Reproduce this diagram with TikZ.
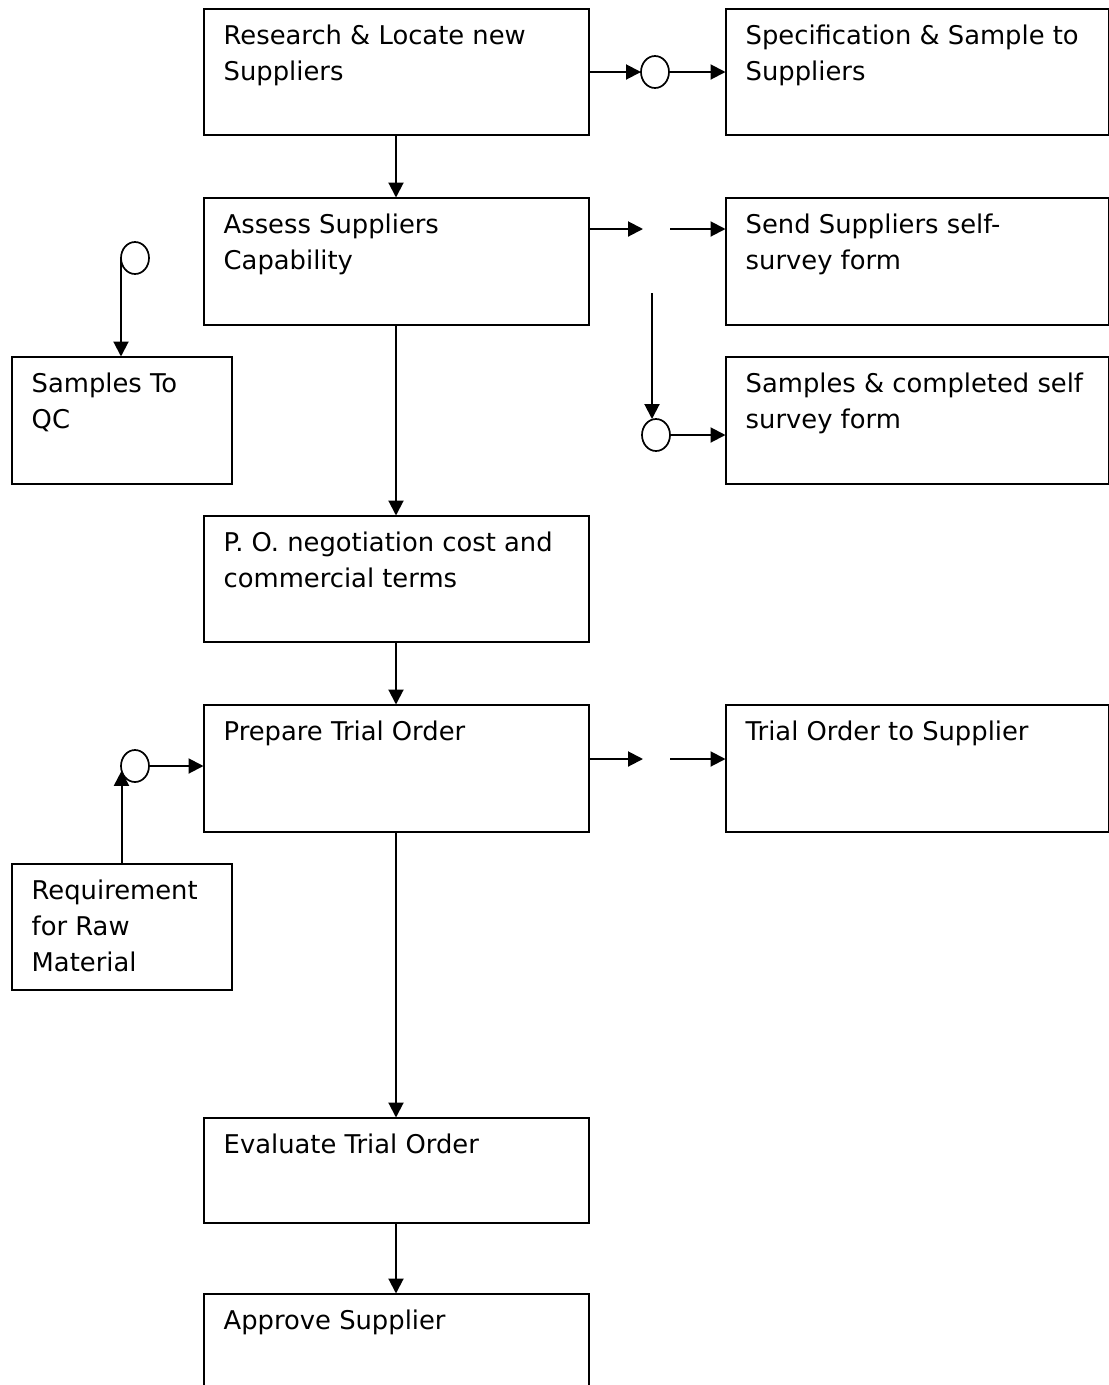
\documentclass[tikz,border=0pt]{standalone}
\usepackage{fontspec}
\setmainfont{DejaVu Sans}
\usetikzlibrary{positioning,shapes.geometric,arrows.meta}

\newcommand\boxfont{\fontsize{25.8pt}{36pt}\selectfont}

\tikzset{
  box/.style={draw, line width=2pt, anchor=north west, inner sep=0pt, outer sep=0pt,
    minimum width=385pt, minimum height=127pt},
  boxtxt/.style={inner sep=0pt, align=left, font=\boxfont},
  conn/.style={draw, ellipse, line width=1.7pt, inner sep=0pt, outer sep=0pt,
    minimum width=28pt, minimum height=32pt},
  flow/.style={-{Triangle[length=15pt,width=15pt]}, line width=2pt},
}

\begin{document}
\begin{tikzpicture}[x=1pt,y=-1pt]
  \useasboundingbox (0,0) rectangle (1109,1385);

  %% middle column
  \node[box, minimum height=126pt] (res) at (203.5,8.5) {};
  \node[boxtxt, below right=16pt and 20pt of res.north west] (res-t) {Research \& Locate new\\Suppliers};
  \node[box] (ass) at (203.5,197.5) {};
  \node[boxtxt, below right=16pt and 20pt of ass.north west] (ass-t) {Assess Suppliers\\Capability};
  \node[box, minimum height=126pt] (po) at (203.5,515.5) {};
  \node[boxtxt, below right=16pt and 20pt of po.north west] (po-t) {P. O. negotiation cost and\\commercial terms};
  \node[box] (prep) at (203.5,704.5) {};
  \node[boxtxt, below right=16pt and 20pt of prep.north west] (prep-t) {Prepare Trial Order};
  \node[box, minimum height=105pt] (eva) at (203.5,1117.5) {};
  \node[boxtxt, below right=16pt and 20pt of eva.north west] (eva-t) {Evaluate Trial Order};
  \node[box] (app) at (203.5,1293.5) {};
  \node[boxtxt, below right=16pt and 20pt of app.north west] (app-t) {Approve Supplier};

  %% right column
  \node[box, minimum width=383pt, minimum height=126pt] (spec) at (725.5,8.5) {};
  \node[boxtxt, below right=16pt and 20pt of spec.north west] (spec-t) {Specification \& Sample to\\Suppliers};
  \node[box, minimum width=383pt] (send) at (725.5,197.5) {};
  \node[boxtxt, below right=16pt and 20pt of send.north west] (send-t) {Send Suppliers self-\\survey form};
  \node[box, minimum width=383pt] (sam) at (725.5,356.5) {};
  \node[boxtxt, below right=16pt and 20pt of sam.north west] (sam-t) {Samples \& completed self\\survey form};
  \node[box, minimum width=383pt] (tos) at (725.5,704.5) {};
  \node[boxtxt, below right=16pt and 20pt of tos.north west] (tos-t) {Trial Order to Supplier};

  %% left column
  \node[box, minimum width=220pt] (qc) at (11.5,356.5) {};
  \node[boxtxt, below right=16pt and 20pt of qc.north west] (qc-t) {Samples To\\QC};
  \node[box, minimum width=220pt, minimum height=126pt] (req) at (11.5,863.5) {};
  \node[boxtxt, below right=16pt and 20pt of req.north west] (req-t) {Requirement\\for Raw\\Material};

  %% connectors
  \node[conn] (c1) at (655,72) {};
  \node[conn] (c2) at (656,435) {};
  \node[conn] (c3) at (135,258) {};
  \node[conn] (c4) at (135,766) {};
  \coordinate (g1a) at (643,229);
  \coordinate (g1b) at (670,229);
  \coordinate (g2) at (652,293);
  \coordinate (g3a) at (643,759);
  \coordinate (g3b) at (670,759);

  %% arrows
  \draw[flow] (res.east |- c1.west) -- (c1.west);
  \draw[flow] (c1.east) -- (spec.west |- c1.east);
  \draw[flow] (res.south) -- (ass.north);
  \draw[flow] (ass.east |- g1a) -- (g1a);
  \draw[flow] (g1b) -- (send.west |- g1b);
  \draw[flow] (g2) -- (g2 |- c2.north);
  \draw[flow] (c2.east) -- (sam.west |- c2.east);
  \draw[flow] (c3.west) -- (c3.west |- qc.north);
  \draw[flow] (ass.south) -- (po.north);
  \draw[flow] (po.south) -- (prep.north);
  \draw[flow] (prep.east |- g3a) -- (g3a);
  \draw[flow] (g3b) -- (tos.west |- g3b);
  \draw[flow] (req.north) -- (req.north |- c4.200);
  \draw[flow] (c4.east) -- (prep.west |- c4.east);
  \draw[flow] (prep.south) -- (eva.north);
  \draw[flow] (eva.south) -- (app.north);
\end{tikzpicture}
\end{document}
